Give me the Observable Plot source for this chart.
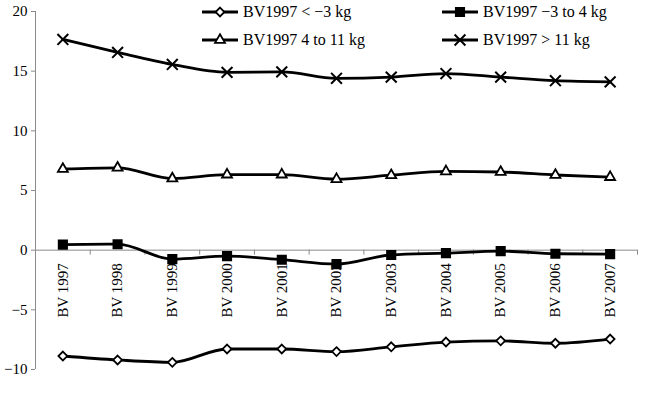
<!DOCTYPE html>
<html>
<head>
<meta charset="utf-8">
<script src="https://cdn.jsdelivr.net/npm/d3@7"></script>
<script src="https://cdn.jsdelivr.net/npm/@observablehq/plot@0.6"></script>
<style>
  html, body { margin: 0; padding: 0; background: #fff; }
  #wrap { position: relative; width: 646px; height: 404px; font-family: "Liberation Serif", "DejaVu Serif", serif; }
  #wrap svg { font-family: "Liberation Serif", "DejaVu Serif", serif !important; }
  #wrap svg g[aria-label^="y-axis"] :is(line, path) { stroke: #8a8a8a; }
  .leg { position: absolute; display: flex; align-items: center; font-size: 16px; color: #000; white-space: nowrap; }
  .leg svg { margin-right: 5px; }
</style>
</head>
<body>
<div id="wrap"></div>
<script>
const categories = ["BV 1997","BV 1998","BV 1999","BV 2000","BV 2001","BV 2002","BV 2003","BV 2004","BV 2005","BV 2006","BV 2007"];
const seriesNames = ["BV1997 < \u22123 kg", "BV1997 \u22123 to 4 kg", "BV1997 4 to 11 kg", "BV1997 > 11 kg"];
const lowValues = [-8.87, -9.2, -9.4, -8.28, -8.28, -8.5, -8.1, -7.7, -7.6, -7.8, -7.45];
const midValues = [0.46, 0.5, -0.75, -0.5, -0.8, -1.17, -0.4, -0.25, -0.08, -0.3, -0.33];
const upperValues = [6.8, 6.9, 6.0, 6.33, 6.33, 5.95, 6.28, 6.6, 6.55, 6.3, 6.12];
const highValues = [17.66, 16.57, 15.56, 14.9, 14.94, 14.4, 14.5, 14.8, 14.5, 14.2, 14.1];
const yTicks = [-10, -5, 0, 5, 10, 15, 20];

const seriesValues = [lowValues, midValues, upperValues, highValues];
const symbols = ["diamond2", "square", "triangle", "times"];
const symbolFill = ["white", "black", "white", "none"];
const symbolR = [4, 4.7, 3.7, 5];

const rows = [];
seriesNames.forEach((s, k) => seriesValues[k].forEach((v, i) => rows.push({series: s, k, i, cat: categories[i], value: v})));
const boundaries = categories.map((_, i) => i + 0.5);

const H = 404, mT = 11, mB = 35;
const tickLen = 5 * 30 / (H - mT - mB);
const FONT = '"Liberation Serif", "DejaVu Serif", serif';

const chart = Plot.plot({
  width: 646, height: H,
  marginLeft: 35, marginRight: 9, marginTop: mT, marginBottom: mB,
  style: {fontFamily: FONT, fontSize: "15px", color: "black", background: "white"},
  x: {domain: [-0.5, categories.length - 0.5], axis: null},
  y: {domain: [-10, 20], ticks: yTicks, tickSize: 4, tickPadding: 4, label: null, tickFormat: d => d < 0 ? "\u2212" + Math.abs(d) : String(d)},
  marks: [
    Plot.ruleX([-0.5], {y1: -10, y2: 20, stroke: "#8a8a8a"}),
    Plot.ruleY([0], {stroke: "#8a8a8a"}),
    Plot.ruleX(boundaries, {x: d => d, y1: 0, y2: -tickLen, stroke: "#8a8a8a"}),
    Plot.text(categories, {x: (d, i) => i, y: 0, text: d => d, rotate: -90, textAnchor: "end", dy: 13, fontSize: 15, fontFamily: FONT, fill: "black"}),
    Plot.line(rows, {x: "i", y: "value", z: "series", stroke: "black", strokeWidth: 2.8, curve: "monotone-x"}),
    ...seriesNames.map((s, k) => Plot.dot(rows.filter(r => r.k === k), {
      x: "i", y: "value", symbol: () => symbols[k], r: symbolR[k],
      fill: symbolFill[k], stroke: "black", strokeWidth: k === 3 ? 2 : 1.8
    }))
  ]
});
const wrap = document.getElementById("wrap");
wrap.appendChild(chart);

// legend
const legPos = [[202, 2], [442, 2], [202, 30], [442, 30]];
const symGen = {diamond2: d3.symbolDiamond2, square: d3.symbolSquare, triangle: d3.symbolTriangle, times: d3.symbolTimes};
seriesNames.forEach((s, k) => {
  const div = document.createElement("div");
  div.className = "leg";
  div.style.left = legPos[k][0] + "px";
  div.style.top = legPos[k][1] + "px";
  div.style.height = "20px";
  const r = symbolR[k];
  const path = d3.symbol(symGen[symbols[k]], Math.PI * r * r)();
  div.innerHTML = `<svg width="36" height="20"><line x1="0" x2="36" y1="10" y2="10" stroke="black" stroke-width="2.8"/>` +
    `<path d="${path}" transform="translate(18,10)" fill="${symbolFill[k]}" stroke="black" stroke-width="${k === 3 ? 2 : 1.8}"/></svg>` +
    `<span>${s}</span>`;
  wrap.appendChild(div);
});
</script>
</body>
</html>
